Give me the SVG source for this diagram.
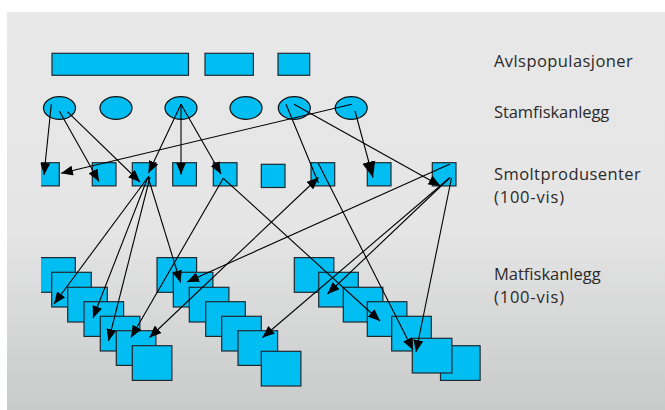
<svg xmlns="http://www.w3.org/2000/svg" width="665" height="410" viewBox="0 0 665 410">
  <defs>
    <linearGradient id="bg" x1="0" y1="0" x2="0" y2="1">
      <stop offset="0" stop-color="#e8e8e8"/>
      <stop offset="0.55" stop-color="#e5e5e5"/>
      <stop offset="1" stop-color="#c9caca"/>
    </linearGradient>
    <marker id="ah" viewBox="0 0 12 10" refX="12" refY="5" markerWidth="12" markerHeight="10" orient="auto-start-reverse" markerUnits="userSpaceOnUse">
      <path d="M0,0 L12,5 L0,10 z" fill="#000"/>
    </marker>
    <marker id="ahBig" viewBox="0 0 12 10" refX="12" refY="5" markerWidth="16" markerHeight="14" orient="auto" markerUnits="userSpaceOnUse">
      <path d="M0,0 L12,5 L0,10 z" fill="#000"/>
    </marker>
    <clipPath id="leftCut">
      <rect x="41" y="0" width="624" height="410"/>
    </clipPath>
    <style>
      .box { fill: #00bef2; stroke: #1e2a30; stroke-width: 1.2; }
      .oval { fill: #00bef2; stroke: #111; stroke-width: 1.2; }
      .lbl { font-family: "Open Sans", "Liberation Sans", sans-serif; font-size: 16.5px; fill: #2a2a2a; }
      .con path { fill: none; stroke: #000; stroke-width: 1.1; }
      .arr { marker-end: url(#ah); }
      .dbl { marker-start: url(#ah); marker-end: url(#ah); }
    </style>
  </defs>

  <!-- slide background -->
  <rect x="0" y="0" width="665" height="410" fill="#ffffff"/>
  <rect x="7" y="12" width="658" height="398" fill="url(#bg)"/>

  <!-- breeding populations -->
  <g id="avl1"><rect class="box" x="52" y="53.3" width="136.5" height="22"/></g>
  <g id="avl2"><rect class="box" x="205" y="53.3" width="48.4" height="22"/></g>
  <g id="avl3"><rect class="box" x="278" y="53.3" width="31.7" height="22"/></g>

  <!-- broodstock farms -->
  <g id="stam1"><ellipse class="oval" cx="59.5" cy="108" rx="16" ry="11.3"/></g>
  <g id="stam2"><ellipse class="oval" cx="116" cy="108" rx="16" ry="11.3"/></g>
  <g id="stam3"><ellipse class="oval" cx="181" cy="108" rx="16" ry="11.3"/></g>
  <g id="stam4"><ellipse class="oval" cx="246" cy="108" rx="16" ry="11.3"/></g>
  <g id="stam5"><ellipse class="oval" cx="294.3" cy="108" rx="16" ry="11.3"/></g>
  <g id="stam6"><ellipse class="oval" cx="351.2" cy="108" rx="16" ry="11.3"/></g>

  <!-- smolt producers -->
  <g id="smolt1" clip-path="url(#leftCut)"><rect class="box" x="35.6" y="162.7" width="23.7" height="23.2"/></g>
  <g id="smolt2"><rect class="box" x="92.3" y="162.7" width="23.7" height="23.2"/></g>
  <g id="smolt3"><rect class="box" x="132.3" y="162.7" width="23.7" height="23.2"/></g>
  <g id="smolt4"><rect class="box" x="172.7" y="162.7" width="23.7" height="23.2"/></g>
  <g id="smolt5"><rect class="box" x="213.3" y="162.7" width="23.7" height="23.2"/></g>
  <g id="smolt6"><rect class="box" x="261.3" y="164.3" width="23.7" height="23.2"/></g>
  <g id="smolt7"><rect class="box" x="311" y="162.7" width="23.7" height="23.2"/></g>
  <g id="smolt8"><rect class="box" x="367.3" y="162.7" width="23.7" height="23.2"/></g>
  <g id="smolt9"><rect class="box" x="432.3" y="162.7" width="23.7" height="23.2"/></g>

  <!-- grow-out farms, stack A -->
  <g id="matA1" clip-path="url(#leftCut)"><rect class="box" x="35.7" y="257.6" width="39.6" height="34.7"/></g>
  <g id="matA2"><rect class="box" x="51.7" y="272.3" width="39.6" height="34.7"/></g>
  <g id="matA3"><rect class="box" x="67.7" y="287.3" width="39.6" height="34.7"/></g>
  <g id="matA4"><rect class="box" x="84" y="301.7" width="39.6" height="34.7"/></g>
  <g id="matA5"><rect class="box" x="100.3" y="316.3" width="39.6" height="34.7"/></g>
  <g id="matA6"><rect class="box" x="116.3" y="330.7" width="39.6" height="34.7"/></g>
  <g id="matA7"><rect class="box" x="132.3" y="345.7" width="39.6" height="34.7"/></g>

  <!-- grow-out farms, stack B -->
  <g id="matB1"><rect class="box" x="157" y="257.6" width="39.6" height="34.7"/></g>
  <g id="matB2"><rect class="box" x="173.3" y="272.3" width="39.6" height="34.7"/></g>
  <g id="matB3"><rect class="box" x="189.3" y="287.3" width="39.6" height="34.7"/></g>
  <g id="matB4"><rect class="box" x="205.7" y="301.7" width="39.6" height="34.7"/></g>
  <g id="matB5"><rect class="box" x="221.7" y="316.3" width="39.6" height="34.7"/></g>
  <g id="matB6"><rect class="box" x="238" y="330.7" width="39.6" height="34.7"/></g>
  <g id="matB7"><rect class="box" x="261.3" y="351.3" width="39.6" height="34.7"/></g>

  <!-- grow-out farms, stack C -->
  <g id="matC1"><rect class="box" x="294.3" y="257.6" width="39.6" height="34.7"/></g>
  <g id="matC2"><rect class="box" x="318.7" y="272.3" width="39.6" height="34.7"/></g>
  <g id="matC3"><rect class="box" x="343.3" y="287.3" width="39.6" height="34.7"/></g>
  <g id="matC4"><rect class="box" x="367.3" y="301.7" width="39.6" height="34.7"/></g>
  <g id="matC5"><rect class="box" x="391.7" y="316.3" width="39.6" height="34.7"/></g>
  <g id="matC7"><rect class="box" x="440.5" y="345.7" width="39.6" height="34.7"/></g>
  <g id="matC6"><rect class="box" x="412.3" y="338.3" width="39.6" height="34.7"/></g>

  <!-- connectors -->
  <g id="connectors" class="con">
    <path class="arr" d="M51.3,104.3 L44,175"/>
    <path class="arr" d="M59.3,111 L99,181.5"/>
    <path class="arr" d="M67.3,111.7 L140,182"/>
    <path class="arr" d="M181,104.3 L148.5,173"/>
    <path class="arr" d="M181,104.3 L181,174.5"/>
    <path class="arr" d="M181,104.3 L221,174"/>
    <path d="M286,104.3 L318.5,183"/>
    <path class="arr" d="M294,104.3 L440.5,186"/>
    <path class="arr" d="M351.7,104.3 L61,173.3"/>
    <path d="M355,111 L373,177.5" marker-end="url(#ahBig)"/>
    <path class="arr" d="M149,176 L54,304"/>
    <path class="arr" d="M148,177 L93,318"/>
    <path class="arr" d="M150,177 L108.5,341"/>
    <path class="arr" d="M148,177 L180.5,282.5"/>
    <path class="arr" d="M223.3,178.3 L131,337.5"/>
    <path class="arr" d="M223.3,178.3 L380,321"/>
    <path class="dbl" d="M149.5,337.5 L318.5,177.5"/>
    <path class="arr" d="M318.3,163.3 L413,350"/>
    <path class="arr" d="M450,164 L187,282"/>
    <path class="arr" d="M450,177.5 L327.5,294"/>
    <path class="arr" d="M450,177.5 L262.5,337.5"/>
    <path class="arr" d="M451.5,178 L416,352"/>
  </g>

  <!-- level labels -->
  <g id="labels">
    <text class="lbl" x="494" y="67.3" textLength="138.7">Avlspopulasjoner</text>
    <text class="lbl" x="494" y="118.3" textLength="115.3">Stamfiskanlegg</text>
    <text class="lbl" x="494" y="180" textLength="146.7">Smoltprodusenter</text>
    <text class="lbl" x="494" y="203.3" textLength="70">(100-vis)</text>
    <text class="lbl" x="494" y="280" textLength="106.7">Matfiskanlegg</text>
    <text class="lbl" x="494" y="303.3" textLength="70">(100-vis)</text>
  </g>
</svg>
